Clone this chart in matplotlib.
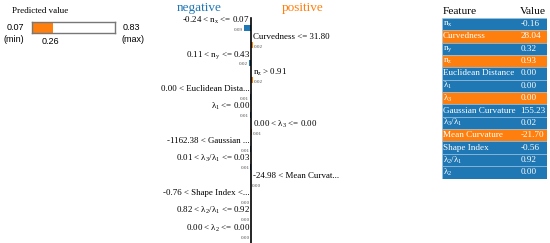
import matplotlib
matplotlib.use("Agg")
import matplotlib.pyplot as plt

plt.rcParams['font.family'] = ['Liberation Serif', 'DejaVu Serif']
plt.rcParams['mathtext.default'] = 'regular'

BLUE = '#1f77b4'
ORANGE = '#ff7f0e'

# ---- data ----
pred_min = 0.07
pred_max = 0.83
pred_value = 0.26

rules = [r'-0.24 < $n_x$ <= 0.07', 'Curvedness <= 31.80', r'0.11 < $n_y$ <= 0.43',
         r'$n_z$ > 0.91', '0.00 < Euclidean Dista...', r'λ$_1$ <= 0.00',
         r'0.00 < λ$_3$ <= 0.00', '-1162.38 < Gaussian ...', r'0.01 < λ$_3$/λ$_1$ <= 0.03',
         '-24.98 < Mean Curvat...', '-0.76 < Shape Index <...', r'0.82 < λ$_2$/λ$_1$ <= 0.92',
         r'0.00 < λ$_2$ <= 0.00']
weights = [-0.088, 0.024, -0.023, 0.020, -0.012, -0.010, 0.009, -0.008, -0.007,
           0.004, -0.004, -0.003, -0.002]

features = [r'$n_x$', 'Curvedness', r'$n_y$', r'$n_z$', 'Euclidean Distance', r'λ$_1$',
            r'λ$_3$', 'Gaussian Curvature', r'λ$_3$/λ$_1$', 'Mean Curvature', 'Shape Index',
            r'λ$_2$/λ$_1$', r'λ$_2$']
feature_values = ['-0.16', '28.04', '0.32', '0.93', '0.00', '0.00', '0.00', '155.23',
                  '0.02', '-21.70', '-0.56', '0.92', '0.00']
feature_positive = [False, True, False, True, False, False, True, False, False, True,
                    False, False, False]

W, H = 550, 243
fig = plt.figure(figsize=(W / 100, H / 100), dpi=100)


def px_axes(x0, y0, x1, y1):
    return fig.add_axes([x0 / W, 1 - y1 / H, (x1 - x0) / W, (y1 - y0) / H])


# ---- predicted value ----
fig.text(12 / W, 1 - 11 / H, 'Predicted value', fontsize=6.5, va='center', ha='left')
axp = px_axes(32, 22, 115, 33)
axp.barh([0], [pred_value - pred_min], left=pred_min, height=1.0, color=ORANGE)
axp.set_xlim(pred_min, pred_max)
axp.set_ylim(-0.5, 0.5)
axp.set_xticks([])
axp.set_yticks([])
for s in axp.spines.values():
    s.set_color('#777777')
    s.set_linewidth(1.0)
sans = ['Liberation Sans', 'DejaVu Sans']
fig.text(24 / W, 1 - 28 / H, f'{pred_min:.2f}', fontsize=6.5, ha='right', va='center', family=sans)
fig.text(24 / W, 1 - 39 / H, '(min)', fontsize=6.5, ha='right', va='center', family=sans)
fig.text(123 / W, 1 - 28 / H, f'{pred_max:.2f}', fontsize=6.5, ha='left', va='center', family=sans)
fig.text(121 / W, 1 - 39 / H, '(max)', fontsize=6.5, ha='left', va='center', family=sans)
axp.text(pred_value - 0.02, -1.3, f'{pred_value:.2f}', fontsize=6.5, ha='center', va='center',
         family=sans, transform=axp.transData)

# ---- explanation bars ----
ax = px_axes(140, 10, 360, 243)
scale = 80.0  # px per unit
ax.set_xlim(-(251 - 140) / scale, (360 - 251) / scale)
row_h = 17.33
ax.set_ylim((243 - 28) / row_h, (10 - 28) / row_h)
ax.axis('off')
n = len(weights)
ys = list(range(n))
colors = [ORANGE if w > 0 else BLUE for w in weights]
ax.barh(ys, weights, height=0.36, color=colors)
ax.axvline(0, ymin=0, ymax=(243 - 18) / 233, color='black', lw=1.2)
for y, w, r in zip(ys, weights, rules):
    if w < 0:
        ax.annotate(r, (0, y), xytext=(-0.8, 5.8), textcoords='offset points',
                    ha='right', va='center', fontsize=6.4)
        ax.annotate(f'{abs(w):.2f}', (w, y), xytext=(-0.7, -1.3), textcoords='offset points',
                    ha='right', va='center', fontsize=3.6, color='#444444')
    else:
        ax.annotate(r, (0, y), xytext=(1.4, 5.8), textcoords='offset points',
                    ha='left', va='center', fontsize=6.4)
        ax.annotate(f'{abs(w):.2f}', (w, y), xytext=(0.5, -1.5), textcoords='offset points',
                    ha='left', va='center', fontsize=3.6, color='#444444')
fig.text(199 / W, 1 - 8 / H, 'negative', fontsize=9.5, color=BLUE, ha='center', va='center')
fig.text(303 / W, 1 - 8 / H, 'positive', fontsize=9.5, color=ORANGE, ha='center', va='center')

# ---- feature table ----
axt = px_axes(442, 5.5, 547, 178.5)
nt = len(features)
axt.set_xlim(0, 1)
axt.set_ylim(nt - 0.5, -1.5)
axt.axis('off')
tcolors = [ORANGE if p else BLUE for p in feature_positive]
axt.barh(range(nt), [1] * nt, left=0, height=1.0, color=tcolors, edgecolor='#9ec5e0', lw=0.4)
axt.text(0.01, -1, 'Feature', fontsize=8.2, ha='left', va='center')
axt.text(0.745, -1, 'Value', fontsize=8.2, ha='left', va='center')
for i, (f, v) in enumerate(zip(features, feature_values)):
    axt.text(0.01, i, f, fontsize=6.6, color='white', ha='left', va='center')
    axt.text(0.745, i, v, fontsize=6.6, color='white', ha='left', va='center')

fig.savefig('out.png', dpi=100)
